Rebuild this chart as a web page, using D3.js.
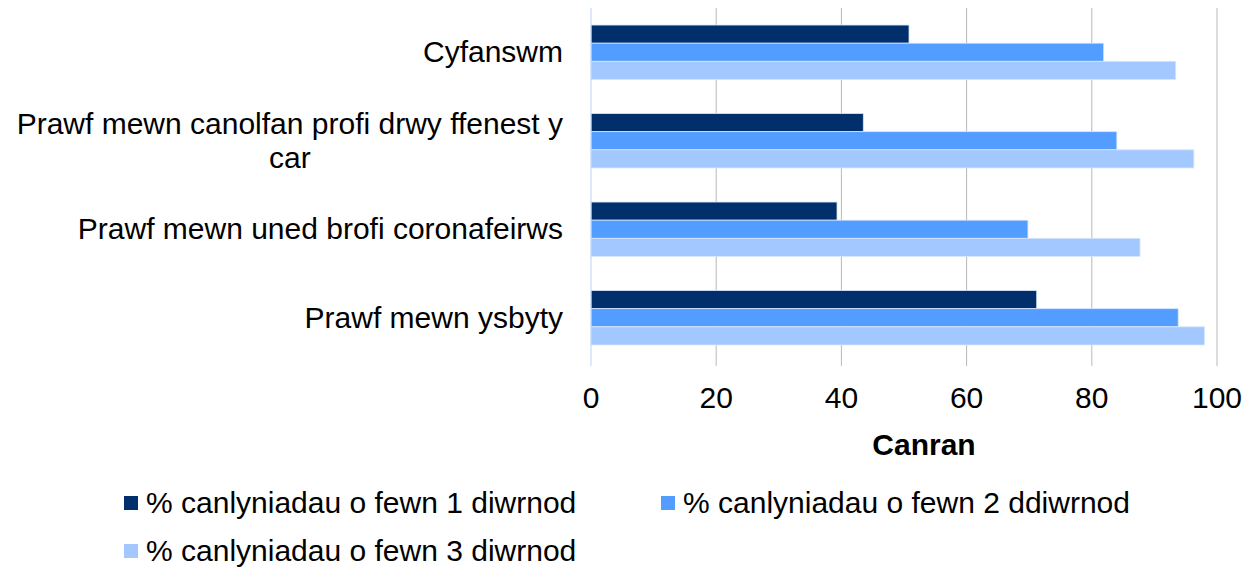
<!DOCTYPE html>
<html>
<head>
<meta charset="utf-8">
<script src="https://cdn.jsdelivr.net/npm/d3@7"></script>
<style>
  body { margin: 0; background: #fff; }
  text { font-family: "Liberation Sans", Arial, sans-serif; fill: #000; }
</style>
</head>
<body>
<script>
// chart data
var categories = ["Cyfanswm", "Prawf mewn canolfan profi drwy ffenest y car", "Prawf mewn uned brofi coronafeirws", "Prawf mewn ysbyty"];
var seriesNames = ["% canlyniadau o fewn 1 diwrnod", "% canlyniadau o fewn 2 ddiwrnod", "% canlyniadau o fewn 3 diwrnod"];
var day1 = [50.8, 43.5, 39.3, 71.2];
var day2 = [81.9, 84.0, 69.8, 93.8];
var day3 = [93.4, 96.3, 87.7, 98.0];
var xTicks = [0, 20, 40, 60, 80, 100];
var axisTitle = "Canran";
var colors = ["#002f6c", "#529dff", "#a2c8ff"];

(function(){

var width = 1255, height = 571;
var plotLeft = 591, plotRight = 1217, plotTop = 8, plotBottom = 362;
var fontSize = "30px";

var svg = d3.select("body").append("svg")
    .attr("width", width)
    .attr("height", height);

var x = d3.scaleLinear().domain([0, 100]).range([plotLeft, plotRight]);

var y = d3.scaleBand()
    .domain(categories)
    .range([plotTop, plotBottom])
    .paddingInner(0.385)
    .paddingOuter(0.1925);

var ySub = d3.scaleBand()
    .domain([0, 1, 2])
    .range([0, y.bandwidth()]);

//gridlines + tick marks
svg.append("g").selectAll("line")
    .data(xTicks.slice(1))
    .enter().append("line")
    .attr("x1", function(d){ return x(d); })
    .attr("x2", function(d){ return x(d); })
    .attr("y1", plotTop)
    .attr("y2", plotBottom + 4)
    .attr("stroke", "#b8b8b8")
    .attr("stroke-width", 1);

//bars
var rows = categories.map(function(c, i){
    return { cat: c, vals: [day1[i], day2[i], day3[i]] };
});

var groups = svg.append("g").selectAll("g")
    .data(rows)
    .enter().append("g")
    .attr("transform", function(d){ return "translate(0," + y(d.cat) + ")"; });

groups.selectAll("rect")
    .data(function(d){ return d.vals; })
    .enter().append("rect")
    .attr("x", x(0))
    .attr("y", function(d, i){ return ySub(i); })
    .attr("width", function(d){ return x(d) - x(0); })
    .attr("height", ySub.bandwidth())
    .attr("fill", function(d, i){ return colors[i]; })
    .attr("stroke", "#d6e6fd")
    .attr("stroke-width", 0.8);

//left axis line
svg.append("line")
    .attr("x1", x(0)).attr("x2", x(0))
    .attr("y1", plotTop).attr("y2", plotBottom + 4)
    .attr("stroke", "#bcd4f6")
    .attr("stroke-width", 1);

//x tick labels
svg.append("g").selectAll("text")
    .data(xTicks)
    .enter().append("text")
    .attr("x", function(d){ return x(d); })
    .attr("y", 408)
    .attr("text-anchor", "middle")
    .style("font-size", fontSize)
    .text(function(d){ return d; });

//axis title
svg.append("text")
    .attr("x", 924)
    .attr("y", 455)
    .attr("text-anchor", "middle")
    .style("font-size", fontSize)
    .style("font-weight", "bold")
    .text(axisTitle);

//category labels, wrapped and right-aligned
var labelRight = 563, maxW = 556, lineH = 34;
categories.forEach(function(c){
    var words = c.split(" ");
    var lines = [];
    var line = [];
    var probe = svg.append("text").style("font-size", fontSize);
    words.forEach(function(w){
        line.push(w);
        probe.text(line.join(" "));
        if (probe.node().getComputedTextLength() > maxW && line.length > 1){
            line.pop();
            lines.push(line.join(" "));
            line = [w];
        }
    });
    lines.push(line.join(" "));
    var widest = 0;
    lines.forEach(function(l){
        probe.text(l);
        widest = Math.max(widest, probe.node().getComputedTextLength());
    });
    probe.remove();
    var cy = y(c) + y.bandwidth() / 2;
    lines.forEach(function(l, i){
        svg.append("text")
            .attr("x", labelRight - widest / 2)
            .attr("y", cy + (i - (lines.length - 1) / 2) * lineH + 10)
            .attr("text-anchor", "middle")
            .style("font-size", fontSize)
            .text(l);
    });
});

//legend
var legendPos = [[124, 503], [661, 503], [124, 551]];
var legend = svg.append("g").selectAll("g")
    .data(seriesNames)
    .enter().append("g")
    .attr("transform", function(d, i){ return "translate(" + legendPos[i][0] + "," + legendPos[i][1] + ")"; });

legend.append("rect")
    .attr("x", 0).attr("y", -7)
    .attr("width", 14).attr("height", 14)
    .attr("fill", function(d, i){ return colors[i]; });

legend.append("text")
    .attr("x", 22)
    .attr("y", 10)
    .style("font-size", fontSize)
    .text(function(d){ return d; });

})();
</script>
</body>
</html>
